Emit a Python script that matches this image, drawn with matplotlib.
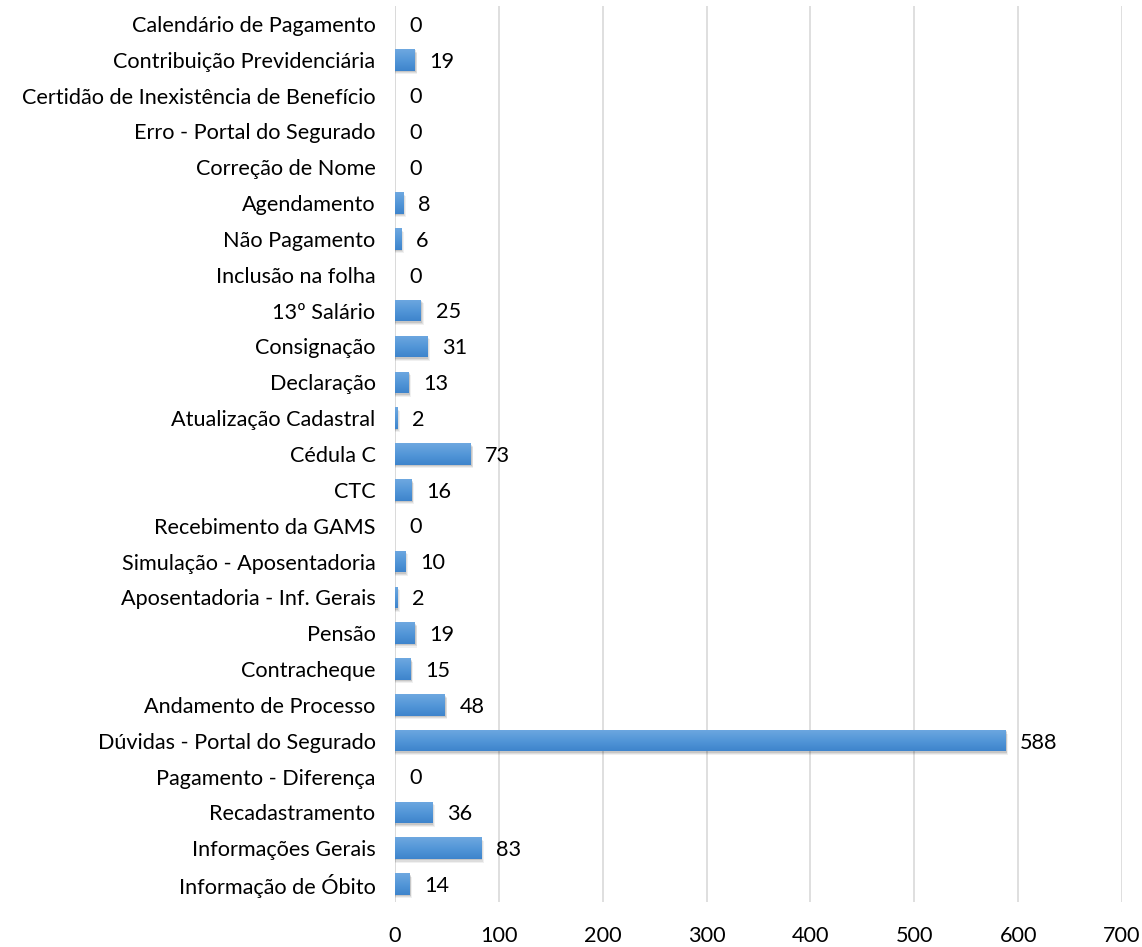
import matplotlib
matplotlib.use("Agg")
import matplotlib.pyplot as plt
import numpy as np
from matplotlib.colors import LinearSegmentedColormap
from matplotlib.patches import Rectangle

categories = [
    "Calendário de Pagamento",
    "Contribuição Previdenciária",
    "Certidão de Inexistência de Benefício",
    "Erro - Portal do Segurado",
    "Correção de Nome",
    "Agendamento",
    "Não Pagamento",
    "Inclusão na folha",
    "13º Salário",
    "Consignação",
    "Declaração",
    "Atualização Cadastral",
    "Cédula C",
    "CTC",
    "Recebimento da GAMS",
    "Simulação - Aposentadoria",
    "Aposentadoria - Inf. Gerais",
    "Pensão",
    "Contracheque",
    "Andamento de Processo",
    "Dúvidas - Portal do Segurado",
    "Pagamento - Diferença",
    "Recadastramento",
    "Informações Gerais",
    "Informação de Óbito",
]
values = [0, 19, 0, 0, 0, 8, 6, 0, 25, 31, 13, 2, 73, 16, 0, 10, 2, 19, 15, 48, 588, 0, 36, 83, 14]
xticks = [0, 100, 200, 300, 400, 500, 600, 700]

plt.rcParams['font.family'] = ['Lato', 'DejaVu Sans']
FS = 15.6

fig = plt.figure(figsize=(11.42, 9.47), dpi=100)
ax = fig.add_axes([395/1142, 1 - 902/947, (1122-395)/1142, (902-6)/947])

n = len(categories)
y = np.arange(n)[::-1]
h = 0.6
cmap = LinearSegmentedColormap.from_list("g", ["#6ea8e0", "#5497d8", "#3e84cc"])
grad = np.linspace(0, 1, 64).reshape(-1, 1)

for yi, v in zip(y, values):
    if v > 0:
        # soft shadow
        for k, a in [(0.10, 0.06), (0.07, 0.08), (0.04, 0.10)]:
            ax.add_patch(Rectangle((0, yi - h/2 - k), v + k * 25, h, facecolor="#000000",
                                   alpha=a, edgecolor="none", zorder=2))
        r = Rectangle((0, yi - h/2), v, h, facecolor="#5b9bd5", edgecolor="none", zorder=3)
        ax.add_patch(r)
        im = ax.imshow(grad, cmap=cmap, aspect="auto",
                       extent=(0, v, yi - h/2, yi + h/2), origin="upper", zorder=3.5)
        im.set_clip_path(r)
    ax.text(v + 14, yi - 0.05, str(v), va="center", ha="left", fontsize=FS, color="#000000", zorder=5)

ax.set_xlim(0, 700)
ax.set_ylim(-0.5, n - 0.5)
ax.set_yticks(y)
ax.set_yticklabels(categories, fontsize=FS)
ax.set_xticks(xticks)
ax.set_xticklabels([str(t) for t in xticks], fontsize=FS)
ax.tick_params(axis="both", length=0)
ax.tick_params(axis="y", pad=14)
ax.tick_params(axis="x", pad=17)
ax.grid(axis="x", color="#d9d9d9", linewidth=1.2, zorder=0)
ax.set_axisbelow(True)
for s in ax.spines.values():
    s.set_visible(False)
ax.axvline(0, color="#d9d9d9", linewidth=1.2, zorder=1)

fig.savefig("out.png", dpi=100)
